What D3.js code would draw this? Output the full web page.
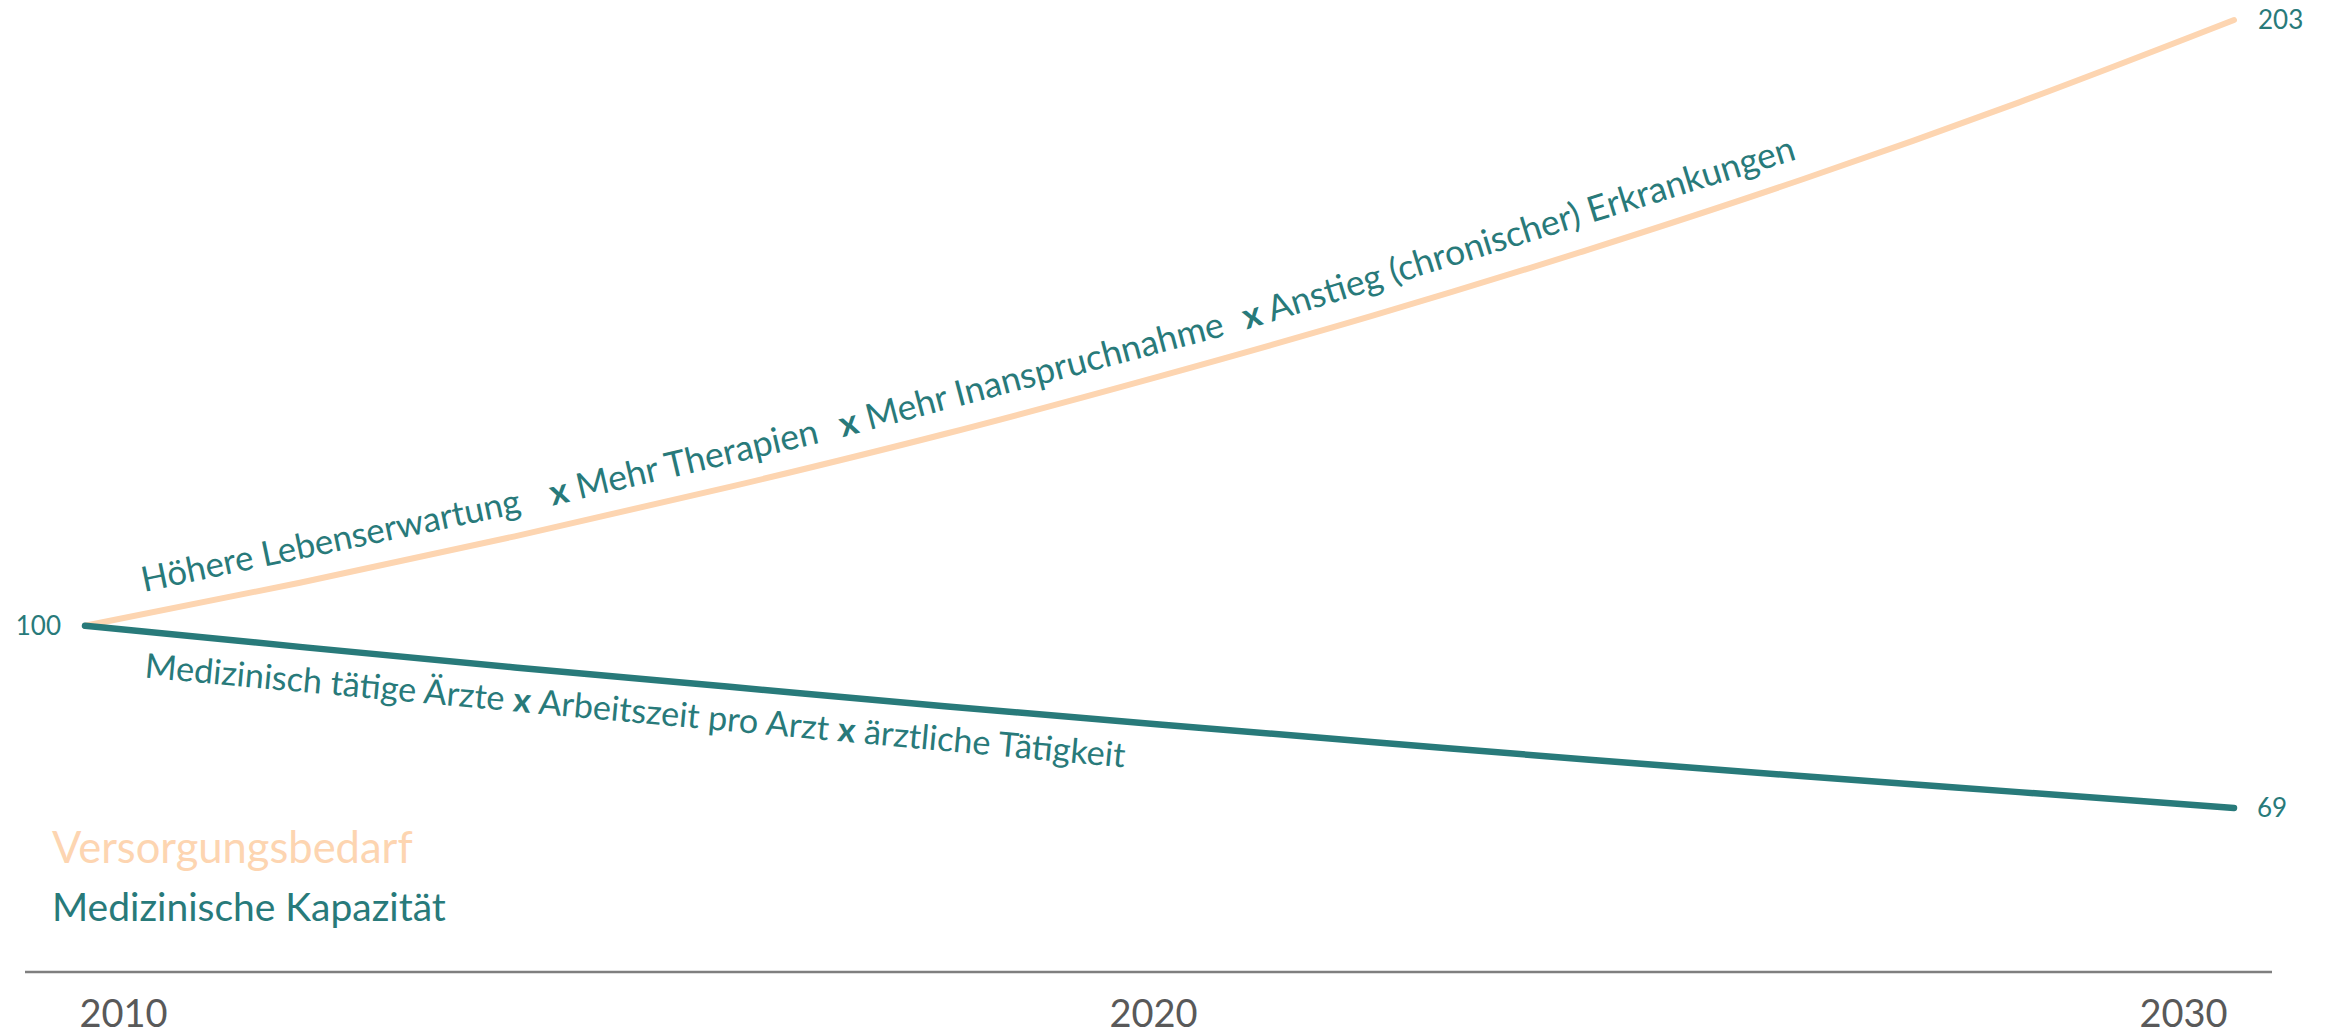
<!DOCTYPE html>
<html>
<head>
<meta charset="utf-8">
<script src="https://cdn.jsdelivr.net/npm/d3@7"></script>
<style>
  body { margin: 0; background: #fff; }
  svg { display: block; font-family: Lato, "Open Sans", sans-serif; }
</style>
</head>
<body>
<svg id="chart" width="2328" height="1035"></svg>
<script>
// data (index, 2010 = 100)
const years = [2010, 2012, 2014, 2016, 2018, 2020, 2022, 2024, 2026, 2028, 2030];
const bedarf = [100, 107.3, 115.2, 123.6, 132.6, 142.4, 152.8, 164.0, 176.0, 189.0, 203];
const kapazitaet = [100, 96.4, 92.9, 89.6, 86.3, 83.2, 80.2, 77.2, 74.4, 71.7, 69];
const tickYears = [2010, 2020, 2030];
const seriesNames = ["Versorgungsbedarf", "Medizinische Kapazität"];

// factors written along the lines, with the year where each starts
const topFactors = ["Höhere Lebenserwartung", "Mehr Therapien", "Mehr Inanspruchnahme", "Anstieg (chronischer) Erkrankungen"];
const topFactorStart = [2010.55, 2014.35, 2017.05, 2020.81];
const bottomFactors = ["Medizinisch tätige Ärzte", "Arbeitszeit pro Arzt", "ärztliche Tätigkeit"];
const bottomFactorStart = 2010.55;

const peach = "#fdd5b1", teal = "#287a7a", grey = "#595959";

const svg = d3.select("#chart");

const x = d3.scaleLinear().domain([2010, 2030]).range([85, 2234]);
const y = d3.scaleLinear().domain([69, 203]).range([808, 20]);
const xTicks = d3.scaleLinear().domain([2010, 2030]).range([123, 2183]);

// baseline + year labels
svg.append("line")
  .attr("x1", 25).attr("x2", 2272)
  .attr("y1", 972).attr("y2", 972)
  .attr("stroke", "#7f7f7f").attr("stroke-width", 2.5);

const axis = svg.append("g")
  .attr("transform", "translate(0,972)")
  .call(d3.axisBottom(xTicks).tickValues(tickYears).tickFormat(d3.format("d")).tickSize(0).tickPadding(28));
axis.select(".domain").remove();
axis.selectAll("text")
  .attr("font-family", "Lato, sans-serif")
  .attr("font-size", 38)
  .attr("fill", grey);

const line = d3.line()
  .x((d, i) => x(years[i]))
  .y(d => y(d))
  .curve(d3.curveMonotoneX);

svg.append("path")
  .attr("d", line(bedarf))
  .attr("fill", "none")
  .attr("stroke", peach)
  .attr("stroke-width", 6)
  .attr("stroke-linecap", "round");

svg.append("path")
  .attr("d", line(kapazitaet))
  .attr("fill", "none")
  .attr("stroke", teal)
  .attr("stroke-width", 6.5)
  .attr("stroke-linecap", "round");

// start / end values
const valueLabels = [
  {t: 2010, v: bedarf[0], anchor: "end", dx: -24},
  {t: 2030, v: bedarf[bedarf.length - 1], anchor: "start", dx: 24},
  {t: 2030, v: kapazitaet[kapazitaet.length - 1], anchor: "start", dx: 23}
];
svg.selectAll(".val")
  .data(valueLabels)
  .enter().append("text")
  .attr("class", "val")
  .attr("x", d => x(d.t) + d.dx)
  .attr("y", d => y(d.v))
  .attr("dy", "0.35em")
  .attr("text-anchor", d => d.anchor)
  .attr("font-size", 26)
  .attr("fill", teal)
  .text(d => d.v);

// legend
svg.selectAll(".legend")
  .data(seriesNames)
  .enter().append("text")
  .attr("class", "legend")
  .attr("x", 52)
  .attr("y", (d, i) => 863 + i * 58)
  .attr("font-size", (d, i) => i == 0 ? 43.5 : 39)
  .attr("fill", (d, i) => i == 0 ? peach : teal)
  .text(d => d);

function valueAt(series, t) {
  let i = d3.bisectRight(years, t) - 1;
  i = Math.max(0, Math.min(years.length - 2, i));
  const f = (t - years[i]) / (years[i + 1] - years[i]);
  return series[i] + f * (series[i + 1] - series[i]);
}

// a straight rotated label that follows the chord of the curve under it
function factorLabel(parts, series, t0, offset, size) {
  const x0 = x(t0);
  const y0 = y(valueAt(series, t0)) + offset;
  const txt = svg.append("text")
    .attr("x", x0).attr("y", y0)
    .attr("font-size", size)
    .attr("fill", teal)
    .attr("xml:space", "preserve");
  parts.forEach(p => {
    txt.append("tspan")
      .attr("font-weight", p.bold ? 700 : 400)
      .text(p.s);
  });
  const len = txt.node().getComputedTextLength();
  let angle = 0;
  for (let k = 0; k < 3; k++) {
    const x1 = x0 + len * Math.cos(angle);
    const y1 = y(valueAt(series, x.invert(x1))) + offset;
    angle = Math.atan2(y1 - y0, x1 - x0);
  }
  txt.attr("transform", `rotate(${angle * 180 / Math.PI},${x0},${y0})`);
}

topFactors.forEach((f, i) => {
  const parts = i == 0 ? [{s: f}] : [{s: "x", bold: true}, {s: " " + f}];
  factorLabel(parts, bedarf, topFactorStart[i], -22, i == 0 ? 34.7 : 35.5);
});

const bottomParts = [];
bottomFactors.forEach((f, i) => {
  if (i > 0) bottomParts.push({s: " "}, {s: "x", bold: true}, {s: " "});
  bottomParts.push({s: f});
});
factorLabel(bottomParts, kapazitaet, bottomFactorStart, 46, 34.2);
</script>
</body>
</html>
